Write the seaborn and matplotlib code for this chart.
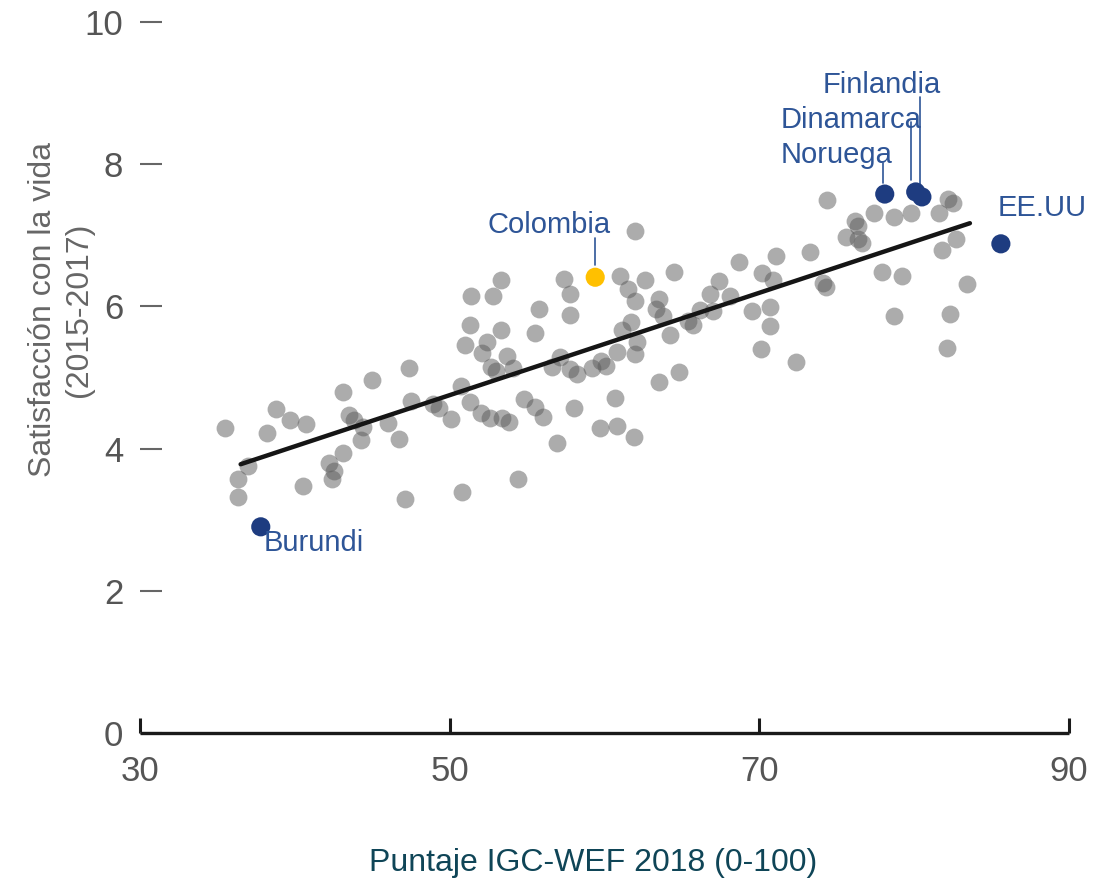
import numpy as np
import pandas as pd
import matplotlib.pyplot as plt
import seaborn as sns

# =============================
# datos: puntaje IGC-WEF 2018 (x) vs satisfaccion con la vida 2015-2017 (y)
# =============================

igc = [35.5, 36.3, 36.3, 37.0, 38.2, 38.8, 39.7, 40.5, 40.7, 42.2,
       42.5, 42.4, 43.1, 43.1, 43.5, 43.8, 44.4, 44.3, 45.0, 46.0,
       46.7, 47.1, 47.4, 47.5, 48.9, 49.3, 50.1, 50.7, 50.8, 51.0,
       51.3, 51.3, 51.4, 52.0, 52.1, 52.4, 52.6, 52.8, 53.3, 53.3,
       52.7, 53.0, 53.4, 53.8, 53.7, 54.1, 54.4, 54.8, 55.5, 55.5,
       55.8, 56.0, 56.6, 56.9, 57.1, 57.4, 57.8, 57.8, 57.8, 58.2,
       58.0, 59.2, 59.7, 59.8, 60.1, 60.7, 60.8, 60.8, 61.0, 61.1,
       61.5, 61.7, 61.9, 62.0, 62.0, 62.0, 62.1, 62.6, 63.3, 63.8,
       63.5, 63.5, 64.2, 64.5, 64.8, 65.4, 65.7, 66.2, 66.8, 67.0,
       67.4, 68.1, 68.7, 69.5, 70.1, 70.2, 70.7, 70.7, 70.9, 71.1,
       72.4, 73.3, 74.1, 74.3, 74.4, 75.6, 76.2, 76.4, 76.4, 76.6,
       77.4, 77.9, 78.7, 78.7, 79.2, 79.8, 81.6, 82.2, 82.5, 81.8,
       82.1, 82.3, 82.7, 83.4]
satisf = [4.29, 3.57, 3.32, 3.76, 4.22, 4.56, 4.40, 3.48, 4.34, 3.80,
          3.68, 3.57, 4.79, 3.94, 4.47, 4.40, 4.31, 4.12, 4.96, 4.36,
          4.14, 3.29, 5.14, 4.67, 4.63, 4.57, 4.42, 4.88, 3.39, 5.46,
          4.65, 5.74, 6.14, 4.50, 5.34, 5.50, 4.43, 6.15, 6.37, 5.67,
          5.15, 5.09, 4.43, 4.37, 5.30, 5.13, 3.57, 4.70, 5.63, 4.59,
          5.96, 4.45, 5.15, 4.08, 5.29, 6.39, 5.88, 6.17, 5.12, 5.05,
          4.57, 5.13, 4.29, 5.23, 5.16, 4.71, 5.36, 4.32, 6.43, 5.67,
          6.25, 5.78, 4.17, 5.33, 7.06, 6.07, 5.50, 6.37, 5.96, 5.86,
          6.10, 4.93, 5.60, 6.48, 5.08, 5.79, 5.74, 5.95, 6.17, 5.93,
          6.36, 6.14, 6.62, 5.94, 5.40, 6.47, 5.99, 5.72, 6.37, 6.71,
          5.22, 6.77, 6.33, 6.27, 7.49, 6.97, 7.20, 7.13, 6.95, 6.89,
          7.32, 6.48, 7.26, 5.86, 6.43, 7.32, 7.31, 7.51, 7.45, 6.80,
          5.42, 5.90, 6.95, 6.32]

# paises destacados
paises = ["Burundi", "Colombia", "Noruega", "Dinamarca", "Finlandia", "EE.UU"]
paises_igc = [37.8, 59.4, 78.1, 80.1, 80.5, 85.6]
paises_satisf = [2.90, 6.41, 7.58, 7.61, 7.54, 6.88]
paises_color = ["#1E3C80", "#FFC000", "#1E3C80", "#1E3C80", "#1E3C80", "#1E3C80"]

# recta de tendencia
tend_igc = [36.5, 83.6]
tend_satisf = [3.78, 7.17]

x_ticks = [30, 50, 70, 90]
y_ticks = [0, 2, 4, 6, 8, 10]

# posicion de las etiquetas: (x texto, y texto, alineacion, x linea, y0 linea, y1 linea)
etiquetas = {
    "Burundi": (38.0, 2.67, "left", None, None, None),
    "Colombia": (60.4, 7.14, "right", 59.4, 6.96, 6.58),
    "Noruega": (71.4, 8.13, "left", 78.0, 8.02, 7.74),
    "Dinamarca": (71.4, 8.62, "left", 79.8, 8.59, 7.78),
    "Finlandia": (74.1, 9.11, "left", 80.4, 8.95, 7.72),
    "EE.UU": (85.4, 7.38, "left", None, None, None),
}

# =============================

sns.set_style("white")
plt.rcParams["font.family"] = ["Liberation Sans", "DejaVu Sans"]
tick_font = ["Liberation Sans Narrow", "Liberation Sans", "DejaVu Sans"]
azul = "#2E5597"

df = pd.DataFrame({"igc": igc, "satisf": satisf})
df_p = pd.DataFrame({"pais": paises, "igc": paises_igc, "satisf": paises_satisf})
df_t = pd.DataFrame({"igc": tend_igc, "satisf": tend_satisf})

fig = plt.figure(figsize=(11.03, 8.82), dpi=100)
ax = fig.add_axes([140 / 1103, 1 - 733 / 882, 929 / 1103, 711 / 882])

sns.scatterplot(data=df, x="igc", y="satisf", color="#5a5a5a", alpha=0.5,
                s=165, linewidth=0, ax=ax, zorder=2)
sns.lineplot(data=df_t, x="igc", y="satisf", color="#151515", linewidth=3.2,
             ax=ax, zorder=3)
sns.scatterplot(data=df_p, x="igc", y="satisf", hue="pais",
                palette=dict(zip(paises, paises_color)), s=190, linewidth=0,
                legend=False, ax=ax, zorder=4)

for pais in paises:
    tx, ty, ha, lx, ly0, ly1 = etiquetas[pais]
    ax.text(tx, ty, pais, ha=ha, va="center", fontsize=21, color=azul, zorder=5)
    if lx is not None:
        ax.plot([lx, lx], [ly0, ly1], color=azul, linewidth=1.2, zorder=1)

ax.set_xlim(30, 90)
ax.set_ylim(0, 10)
ax.set_xticks(x_ticks)
ax.set_yticks(y_ticks)
ax.set_xticklabels([str(v) for v in x_ticks], family=tick_font, fontsize=25, color="#555555")
ax.set_yticklabels([str(v) for v in y_ticks], family=tick_font, fontsize=25, color="#555555")

for s in ["top", "right", "left"]:
    ax.spines[s].set_visible(False)
ax.spines["bottom"].set_linewidth(2.4)
ax.spines["bottom"].set_color("#1a1a1a")
ax.spines["bottom"].set_capstyle("butt")

ax.tick_params(axis="x", direction="in", length=11, width=2.2, color="#1a1a1a",
               pad=16, bottom=True)
ax.tick_params(axis="y", direction="in", length=16, width=1.5, color="#666666",
               pad=12, left=True)

ax.set_xlabel("Puntaje IGC-WEF 2018 (0-100)", fontsize=23, color="#0F4557")
ax.xaxis.set_label_coords(0.4876, -0.162)
ax.set_ylabel("Satisfacción con la vida\n(2015-2017)", fontsize=23, color="#666666",
              linespacing=1.25)
ax.yaxis.set_label_coords(-0.0495, 0.595)

plt.savefig("out.png", dpi=100)
plt.close()
